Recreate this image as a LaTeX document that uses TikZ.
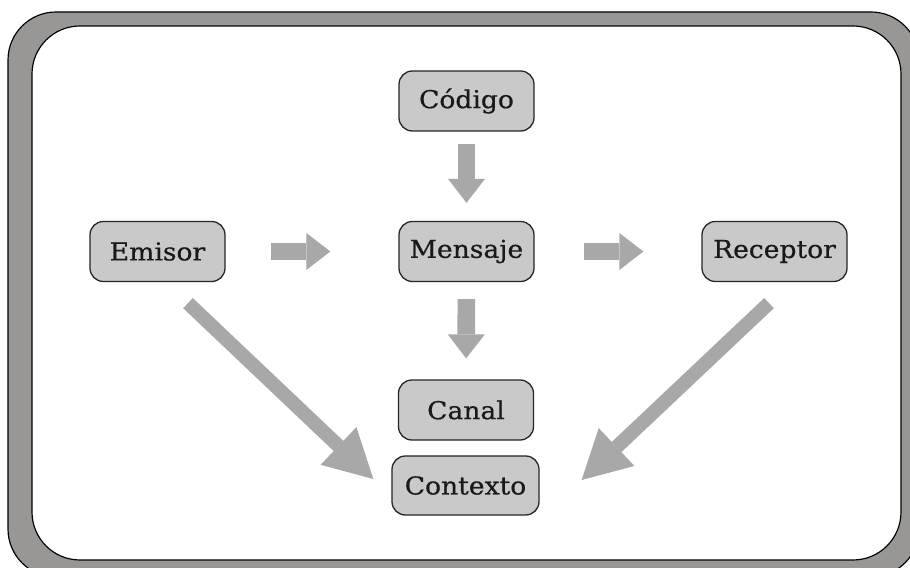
\documentclass[tikz,border=0pt]{standalone}
\usepackage{fontspec}
\usepackage{tikz}
\usetikzlibrary{arrows.meta, calc}

\newfontfamily\boxfont[FakeStretch=1.08, FakeBold=0.6]{DejaVu Serif}

\definecolor{framegray}{HTML}{989795}
\definecolor{boxgray}{HTML}{C9C9C9}
\definecolor{arrowgray}{HTML}{A8A8A8}

\begin{document}
\begin{tikzpicture}[x=0.03cm, y=-0.03cm,
    box/.style={draw=black!85, fill=boxgray, rounded corners=0.4cm, line width=1.1pt,
        minimum width=4.05cm, minimum height=1.8cm, inner sep=0pt,
        font=\boxfont\fontsize{21}{25}\selectfont, text=black!90},
    flow/.style={draw=arrowgray, line width=0.53cm, line cap=butt,
        -{Triangle[length=0.72cm, width=1.11cm, line width=0pt]}},
    slant/.style={draw=arrowgray, line width=0.42cm, line cap=butt,
        -{Triangle[length=1.44cm, width=1.56cm, line width=0pt]}}]

    \useasboundingbox (0,0) rectangle (910,568);

    % -------------------------
    % Frame
    % -------------------------
    \draw[fill=framegray, line width=1pt, rounded corners=1.44cm]
        (8,12) rectangle (919,577);
    \draw[fill=white, line width=1pt, rounded corners=1.44cm]
        (32,26) rectangle (901,560);

    % -------------------------
    % Boxes
    % -------------------------
    \node[box] (codigo)   at (466.5,101)   {Código};
    \node[box] (mensaje)  at (466.5,251.5) {Mensaje};
    \node[box] (emisor)   at (157.5,251.5) {Emisor};
    \node[box, minimum width=4.35cm] (receptor) at (774.5,251.5) {Receptor};
    \node[box] (canal)    at (466,410)     {Canal};
    \node[box, minimum width=4.41cm, minimum height=1.77cm] (contexto) at (465.5,485.5) {Contexto};

    % -------------------------
    % Arrows
    % -------------------------
    \draw[flow, shorten <=0.36cm, shorten >=0.54cm] (codigo.south) -- (mensaje.north);
    \draw[flow, shorten <=0.51cm, shorten >=0.63cm] (mensaje.south) -- (canal.north);
    \draw[flow, shorten <=1.35cm, shorten >=2.04cm] (emisor.east) -- (mensaje.west);
    \draw[flow, shorten <=1.47cm, shorten >=1.74cm] (mensaje.east) -- (receptor.west);

    % diagonal ones into Contexto
    \draw[slant] ($(emisor.south)+(30.5,21)$) -- ($(contexto.west)+(-18,-6.5)$);
    \draw[slant] ($(receptor.south)+(-5.5,21)$) -- ($(contexto.east)+(42,-5.5)$);

\end{tikzpicture}
\end{document}
